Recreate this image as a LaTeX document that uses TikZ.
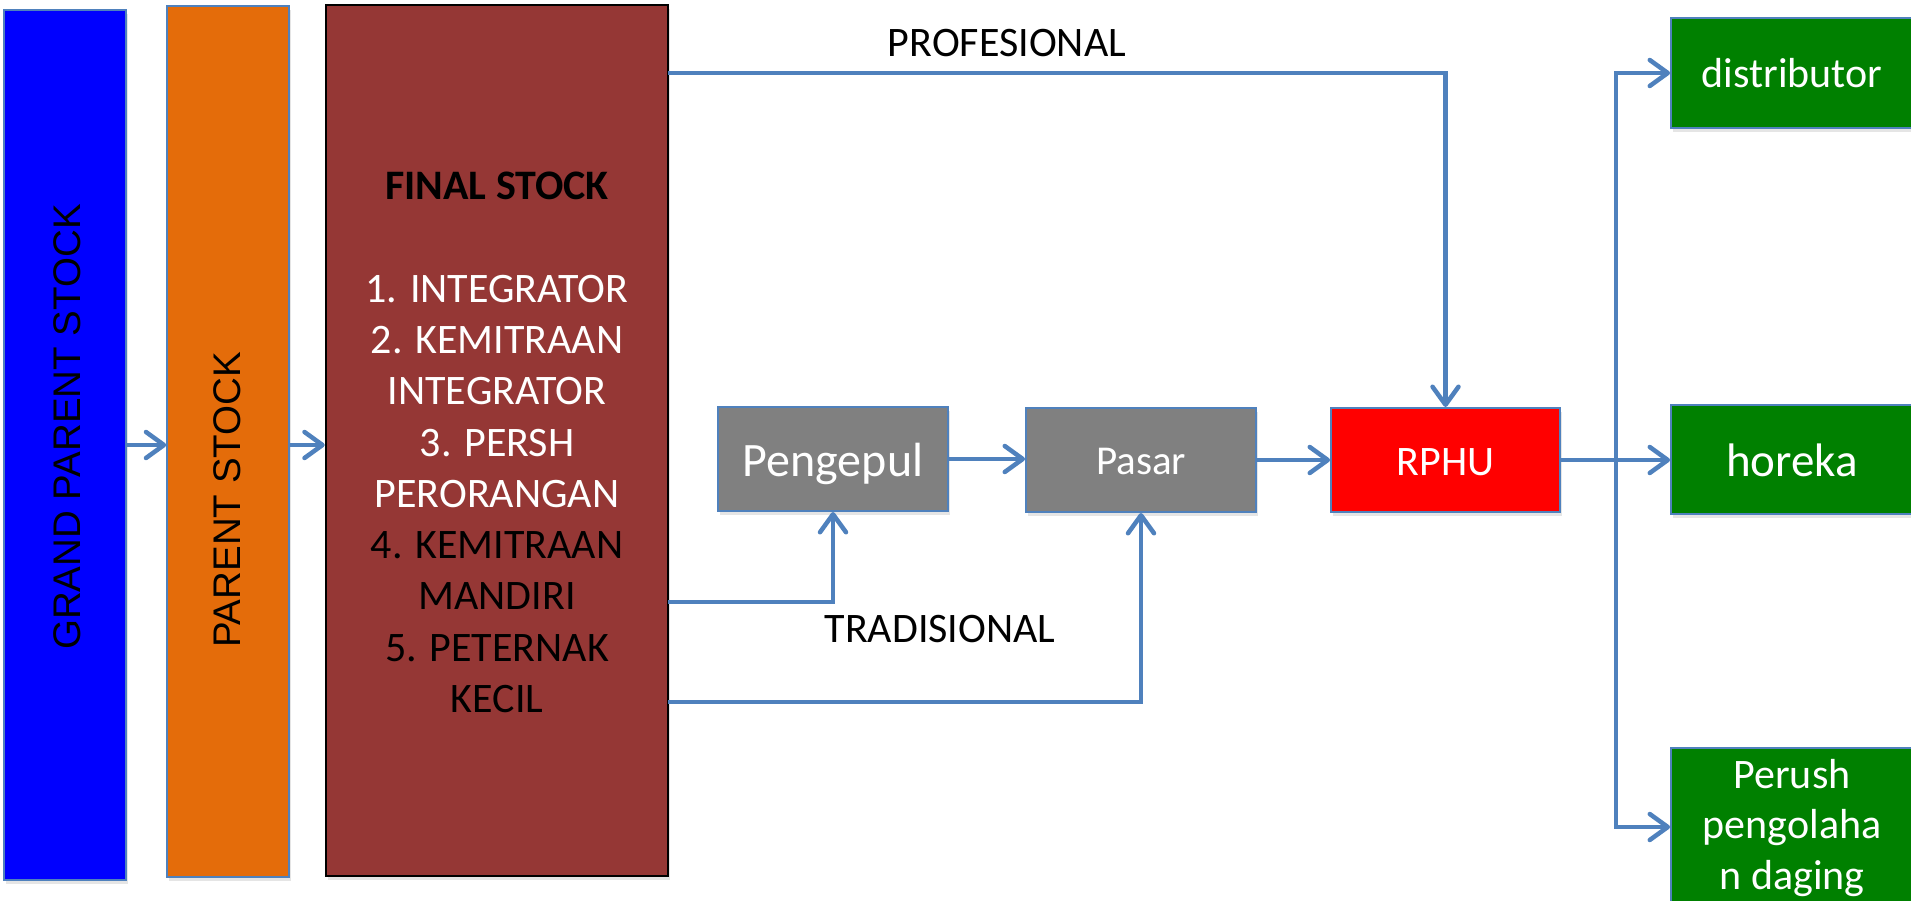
\documentclass[tikz,border=0pt]{standalone}
\usepackage{fontspec}
\setmainfont{Carlito}
\newfontfamily\rotfont{Liberation Sans}
\usetikzlibrary{arrows.meta,shadows}
\definecolor{linec}{HTML}{4F81BD}
\definecolor{gpsblue}{HTML}{0000FF}
\definecolor{psorange}{HTML}{E46C0A}
\definecolor{fsbrown}{HTML}{953735}
\definecolor{boxgray}{HTML}{808080}
\definecolor{rphured}{HTML}{FF0000}
\definecolor{outgreen}{HTML}{008000}
\newcommand{\blk}[1]{{\color{black}#1}}
\newcommand{\fsz}[1]{\fontsize{#1}{1.22\dimexpr#1\relax}\selectfont}
\begin{document}
\begin{tikzpicture}[x=1pt,y=-1pt,
  box/.style={rectangle, inner sep=0pt, draw=linec, line width=2pt,
    drop shadow={opacity=0.2, shadow xshift=2pt, shadow yshift=-4pt}},
  lbl/.style={inner sep=0pt, text=white, font=\fsz{42pt}},
  rlbl/.style={inner sep=0pt, text=black, rotate=90, font=\rotfont\fsz{38.5pt}},
  conn/.style={draw=linec, line width=4.5pt},
  arr/.style={conn, -{Straight Barb[length=18pt,width=26pt,round]}},
]
\fill[white] (0,0) rectangle (1911,901);
\useasboundingbox (0,0) rectangle (1911,901);

% boxes
\node[box, fill=gpsblue, line width=1.5pt, minimum width=122pt, minimum height=870pt] (gps) at (65,445) {};
\node[box, fill=psorange, line width=1.5pt, minimum width=122pt, minimum height=871pt] (ps) at (228,441.5) {};
\node[box, fill=fsbrown, draw=black, line width=2.5pt, minimum width=342pt, minimum height=871pt] (fs) at (497,440.5) {};
\node[box, fill=boxgray, minimum width=230pt, minimum height=104pt] (peng) at (833,459) {};
\node[box, fill=boxgray, minimum width=230pt, minimum height=104pt] (pasar) at (1141,460) {};
\node[box, fill=rphured, minimum width=229pt, minimum height=104pt] (rphu) at (1445.5,460) {};
\node[box, fill=outgreen, minimum width=242pt, minimum height=110pt] (dist) at (1792,73) {};
\node[box, fill=outgreen, minimum width=242pt, minimum height=109pt] (hor) at (1792,459.5) {};
\node[box, fill=outgreen, minimum width=242pt, minimum height=158pt] (peru) at (1792,827) {};

% labels
\node[rlbl] (gpsT) at (67,427) {GRAND PARENT STOCK};
\node[rlbl] (psT) at (227,500) {PARENT STOCK};
\node[lbl, align=center] (fsT) at (497,442.5) {\blk{\textbf{FINAL STOCK}}\\ \mbox{}\\ 1. INTEGRATOR\\ 2. KEMITRAAN\\ INTEGRATOR\\ 3. PERSH\\ PERORANGAN\\ \blk{4. KEMITRAAN}\\ \blk{MANDIRI}\\ \blk{5. PETERNAK}\\ \blk{KECIL}};
\node[lbl, text=black, anchor=base] (profT) at (1007,57) {PROFESIONAL};
\node[lbl, text=black, anchor=base] (tradT) at (940,642) {TRADISIONAL};
\node[lbl, anchor=base, font=\fsz{48pt}] (pengT) at (833,476) {Pengepul};
\node[lbl, anchor=base, font=\fsz{41pt}] (pasarT) at (1141,474) {Pasar};
\node[lbl, anchor=base] (rphuT) at (1445.5,475) {RPHU};
\node[lbl, anchor=base] (distT) at (1792,88) {distributor};
\node[lbl, anchor=base, font=\fsz{47pt}] (horT) at (1792,476) {horeka};
\node[lbl, align=center, font=\fontsize{42pt}{50.5pt}\selectfont] (peruT) at (1792,828) {Perush\\ pengolaha\\ n daging};

% connectors
\coordinate (fsP) at (668,73);
\coordinate (fsA) at (668,602);
\coordinate (fsB) at (668,702);
\coordinate (sp) at (1616,460);
\draw[arr] (gps.east) -- (gps.east -| ps.west);
\draw[arr] (ps.east |- gps.east) -- (fs.west |- gps.east);
\draw[arr] (fsP) -| (rphu.north);
\draw[arr] (fsA) -| (peng.south);
\draw[arr] (fsB) -| (pasar.south);
\draw[arr] (peng.east) -- (peng.east -| pasar.west);
\draw[arr] (pasar.east) -- (pasar.east -| rphu.west);
\draw[arr] (rphu.east) -- (rphu.east -| hor.west);
\draw[arr] (sp) |- (dist.west);
\draw[arr] (sp) |- (peru.west);
\end{tikzpicture}
\end{document}
